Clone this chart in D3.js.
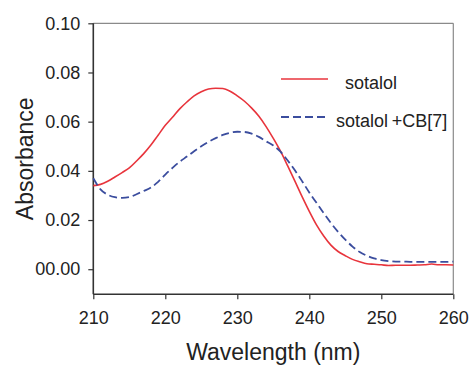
<!DOCTYPE html>
<html>
<head>
<meta charset="utf-8">
<script src="https://cdn.jsdelivr.net/npm/d3@7"></script>
<style>
  html, body { margin: 0; padding: 0; background: #fff; }
  svg { display: block; font-family: "Liberation Sans", Arial, sans-serif; }
</style>
</head>
<body>
<svg id="chart" width="469" height="365"></svg>
<script>
const wavelengths = [210,211,212,213,214,215,216,217,218,219,220,221,222,223,224,225,226,227,228,229,230,231,232,233,234,235,236,237,238,239,240,241,242,243,244,245,246,247,248,249,250,251,252,253,254,255,256,257,258,259,260];
const sotalol = [0.0340,0.0345,0.0358,0.0375,0.0393,0.0412,0.0440,0.0470,0.0505,0.0545,0.0585,0.0618,0.0652,0.0680,0.0705,0.0722,0.0733,0.0736,0.0735,0.0724,0.0705,0.0683,0.0655,0.0622,0.0580,0.0532,0.0480,0.0420,0.0358,0.0295,0.0235,0.0180,0.0135,0.0098,0.0072,0.0055,0.0040,0.0030,0.0022,0.0020,0.0018,0.0015,0.0016,0.0016,0.0016,0.0017,0.0018,0.0021,0.0018,0.0018,0.0017];
const sotalolCB7 = [0.0370,0.0325,0.0303,0.0293,0.0290,0.0293,0.0305,0.0318,0.0332,0.0355,0.0385,0.0412,0.0437,0.0458,0.0480,0.0500,0.0518,0.0533,0.0546,0.0555,0.0559,0.0558,0.0551,0.0538,0.0520,0.0503,0.0478,0.0442,0.0402,0.0358,0.0312,0.0270,0.0228,0.0188,0.0152,0.0120,0.0092,0.0070,0.0055,0.0044,0.0037,0.0033,0.0031,0.0031,0.0030,0.0030,0.0030,0.0030,0.0030,0.0030,0.0031];
const xTicks = [210,220,230,240,250,260];
const yTicks = [0,0.02,0.04,0.06,0.08,0.10];
const yTickLabels = ["00.00","0.02","0.04","0.06","0.08","0.10"];
const seriesNames = ["sotalol","sotalol\u2009+CB[7]"];
const seriesColors = ["#e8343c","#3b4d9e"];

const svg = d3.select("#chart");
const m = {left: 93.3, right: 453.3, top: 23.3, bottom: 294.3};
const x = d3.scaleLinear().domain([210,260]).range([m.left, m.right]);
const y = d3.scaleLinear().domain([-0.0102,0.10]).range([m.bottom, m.top]);

// frame top/right
svg.append("line").attr("x1",m.left).attr("x2",m.right).attr("y1",m.top).attr("y2",m.top)
  .attr("stroke","#8a8a8a").attr("stroke-width",1.2);
svg.append("line").attr("x1",m.right).attr("x2",m.right).attr("y1",m.top).attr("y2",m.bottom)
  .attr("stroke","#8a8a8a").attr("stroke-width",1.2);

const xAxis = svg.append("g").attr("transform",`translate(0,${m.bottom})`)
  .call(d3.axisBottom(x).tickValues(xTicks).tickFormat(d3.format("d")).tickSize(5).tickPadding(12));
const yAxis = svg.append("g").attr("transform",`translate(${m.left},0)`)
  .call(d3.axisLeft(y).tickValues(yTicks).tickFormat((d,i)=>yTickLabels[i]).tickSize(5).tickPadding(8));
[xAxis,yAxis].forEach(a=>{
  a.select(".domain").attr("stroke","#333").attr("stroke-width",1.6);
  a.selectAll(".tick line").attr("stroke","#333").attr("stroke-width",1.2);
  a.selectAll(".tick text").attr("fill","#222").style("font-size","18px");
});
xAxis.select(".domain").attr("d",`M${m.left},0H${m.right}`);
yAxis.select(".domain").attr("d",`M0,${m.top}V${m.bottom}`);

const line = d3.line().x((d,i)=>x(wavelengths[i])).y(d=>y(d)).curve(d3.curveMonotoneX);
svg.append("path").datum(sotalol).attr("d",line).attr("fill","none")
  .attr("stroke",seriesColors[0]).attr("stroke-width",1.6);
svg.append("path").datum(sotalolCB7).attr("d",line).attr("fill","none")
  .attr("stroke",seriesColors[1]).attr("stroke-width",1.8).attr("stroke-dasharray","8,4");

// legend
const leg = [{y:79, ty:89, tx:345},{y:117, ty:127, tx:336}];
leg.forEach((l,i)=>{
  svg.append("line").attr("x1",281).attr("x2",328).attr("y1",l.y).attr("y2",l.y)
    .attr("stroke",seriesColors[i]).attr("stroke-width",i?1.8:1.6)
    .attr("stroke-dasharray",i?"8,4":null);
  svg.append("text").attr("x",l.tx).attr("y",l.ty).attr("fill","#222")
    .style("font-size","18px").text(seriesNames[i]);
});

// axis titles
svg.append("text").attr("x",(m.left+m.right)/2).attr("y",360).attr("text-anchor","middle")
  .attr("fill","#222").style("font-size","23px").text("Wavelength (nm)");
svg.append("text").attr("transform",`translate(33,${(m.top+m.bottom)/2}) rotate(-90)`)
  .attr("text-anchor","middle").attr("fill","#222").style("font-size","23px").text("Absorbance");
</script>
</body>
</html>
